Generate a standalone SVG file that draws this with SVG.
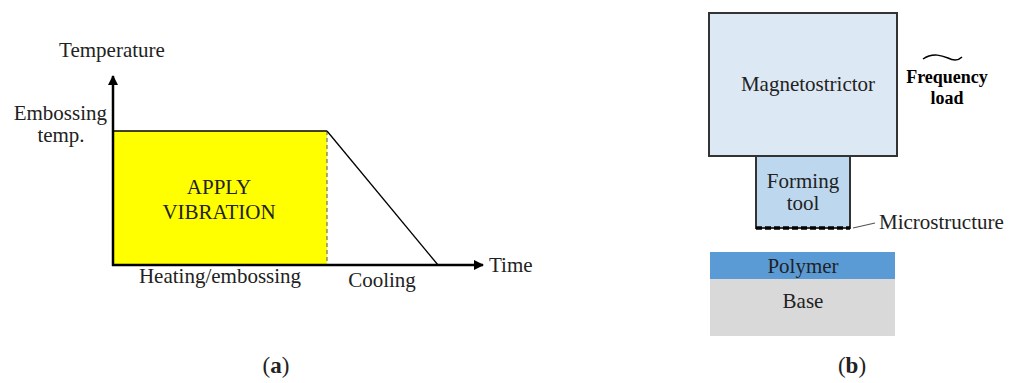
<svg xmlns="http://www.w3.org/2000/svg" width="1013" height="383" viewBox="0 0 1013 383">
<style>
text{font-family:"Liberation Serif","DejaVu Serif",serif;fill:#222;}
.t{font-size:21px;}
.c{text-anchor:middle;}
.ax{stroke:#000;stroke-width:2.5;fill:none;}
</style>
<defs>
<marker id="ah" markerWidth="10" markerHeight="10" refX="9" refY="5" orient="auto" markerUnits="userSpaceOnUse" viewBox="0 0 10 10">
<path d="M0,0 L10,5 L0,10 Z" fill="#000"/>
</marker>
</defs>
<rect width="1013" height="383" fill="#fff"/>
<g id="chart">
<rect x="113" y="131" width="214" height="134" fill="#ffff00"/>
<line x1="113" y1="131" x2="327" y2="131" stroke="#000" stroke-width="1.5"/>
<line x1="327" y1="131" x2="327" y2="265" stroke="#555" stroke-width="1" stroke-dasharray="4,3"/>
<line x1="327" y1="131" x2="438" y2="265" stroke="#000" stroke-width="1.3"/>
</g>
<g id="connectors">
<line class="ax" x1="113" y1="266" x2="113" y2="76" marker-end="url(#ah)"/>
<line class="ax" x1="112" y1="265" x2="483" y2="265" marker-end="url(#ah)"/>
<line x1="853" y1="228" x2="875" y2="223" stroke="#555" stroke-width="1.2"/>
</g>
<g id="labels-a">
<text class="t c" x="112" y="57">Temperature</text>
<text class="t" x="107" y="120" text-anchor="end">Embossing</text>
<text class="t c" x="61" y="142">temp.</text>
<text class="t c" x="219" y="194">APPLY</text>
<text class="t c" x="219" y="219">VIBRATION</text>
<text class="t" x="489" y="272">Time</text>
<text class="t c" x="220" y="283">Heating/embossing</text>
<text class="t c" x="382" y="287">Cooling</text>
<text class="c" x="276" y="373" font-size="23">(<tspan font-weight="bold">a</tspan>)</text>
</g>
<g id="magnetostrictor">
<rect x="709" y="13" width="188" height="143" fill="#dde8f5" stroke="#333" stroke-width="2"/>
<text class="t c" x="808" y="91">Magnetostrictor</text>
</g>
<g id="forming-tool">
<rect x="756" y="156" width="94" height="72" fill="#bdd7ee" stroke="#333" stroke-width="2"/>
<line x1="756" y1="228" x2="850" y2="228" stroke="#000" stroke-width="3.5" stroke-dasharray="6,3"/>
<text class="t c" x="803" y="188">Forming</text>
<text class="t c" x="803" y="210">tool</text>
</g>
<g id="microstructure">
<text class="t" x="879" y="229">Microstructure</text>
</g>
<g id="frequency-load">
<path d="M923,59 C933,52 943,56 948,58 C954,61 958,61 962,57" fill="none" stroke="#000" stroke-width="1.5"/>
<text x="947" y="83" font-size="18" font-weight="bold" text-anchor="middle" style="fill:#000">Frequency</text>
<text x="947" y="104" font-size="18" font-weight="bold" text-anchor="middle" style="fill:#000">load</text>
</g>
<g id="polymer">
<rect x="710" y="252" width="185" height="27" fill="#5b9bd5"/>
<text class="t c" x="803" y="273">Polymer</text>
</g>
<g id="base">
<rect x="710" y="279" width="185" height="57" fill="#d9d9d9"/>
<text class="t c" x="803" y="308">Base</text>
</g>
<g id="label-b">
<text class="c" x="852" y="373" font-size="23">(<tspan font-weight="bold">b</tspan>)</text>
</g>
</svg>
